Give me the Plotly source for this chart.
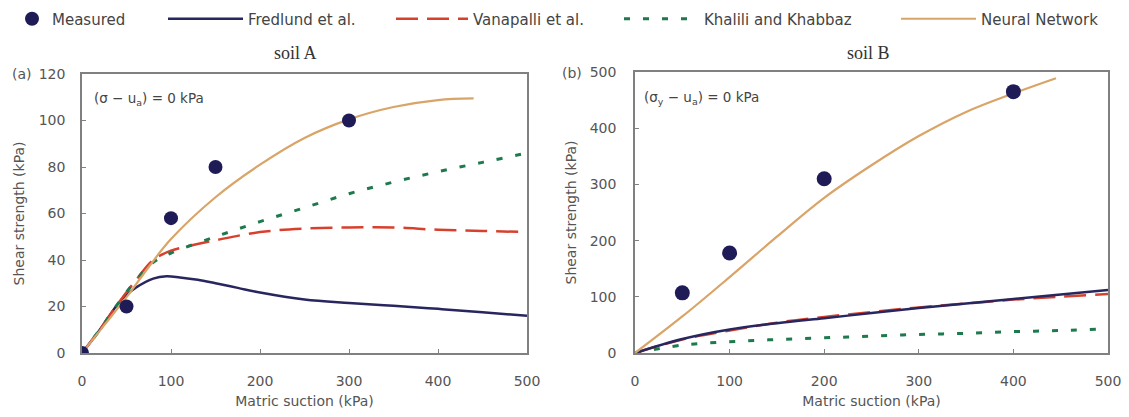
import plotly.graph_objects as go

# ---- data: soil A ----
measA_x = [0, 50, 100, 150, 300]
measA_y = [0, 20, 58, 80, 100]

fredA_x = [0, 20, 40, 50, 60, 80, 95, 110, 130, 150, 175, 200, 250, 300, 350, 400, 450, 500]
fredA_y = [0, 10, 21, 25, 28, 32, 33, 32.5, 31.5, 30, 28, 26, 23, 21.5, 20.3, 19, 17.5, 16]

vanA_x = [0, 20, 40, 60, 80, 100, 120, 150, 200, 250, 300, 350, 400, 450, 500]
vanA_y = [0, 10, 21, 31, 40, 44, 46, 48.5, 52, 53.5, 54, 54, 53, 52.5, 52]

khaA_x = [0, 20, 40, 60, 80, 100, 150, 200, 250, 300, 350, 400, 450, 500]
khaA_y = [0, 10, 21, 31, 39, 43, 50, 56.5, 62.5, 68.5, 73.5, 78, 82, 86]

nnA_x = [0, 25, 50, 75, 100, 150, 200, 250, 300, 350, 400, 440]
nnA_y = [0, 12, 24, 37, 49, 67, 81, 92.5, 100.5, 105.8, 108.8, 109.5]

# ---- data: soil B ----
measB_x = [50, 100, 200, 400]
measB_y = [107, 178, 310, 465]

fredB_x = [0, 50, 100, 150, 200, 250, 300, 350, 400, 450, 500]
fredB_y = [0, 25, 42, 53, 62, 71, 80, 88, 96, 104, 112]

vanB_x = [0, 50, 100, 150, 200, 250, 300, 350, 400, 450, 500]
vanB_y = [0, 24, 40, 54, 64, 73, 81, 88, 95, 100, 105]

khaB_x = [0, 50, 100, 150, 200, 250, 300, 350, 400, 450, 500]
khaB_y = [0, 14, 20, 24, 27, 30, 33, 35, 38, 40, 43]

nnB_x = [0, 50, 100, 150, 200, 250, 300, 350, 400, 445]
nnB_y = [0, 65, 135, 207, 276, 334, 386, 429, 462, 489]

x_ticks = [0, 100, 200, 300, 400, 500]
yA_ticks = [0, 20, 40, 60, 80, 100, 120]
yB_ticks = [0, 100, 200, 300, 400, 500]

C_MEAS = "#1e1b57"
C_FRED = "#28265f"
C_VAN = "#d8402e"
C_KHA = "#1d7a4c"
C_NN = "#d9a468"

DASH_VAN = "22px,9px"
DASH_KHA = "6px,13px"

fig = go.Figure()

def add_line(xa, ya, xs, ys, name, color, dash, width, legend, show):
    fig.add_trace(go.Scatter(x=xs, y=ys, mode="lines", name=name, line_shape="spline",
                             line=dict(color=color, width=width, dash=dash),
                             xaxis=xa, yaxis=ya, legend=legend, showlegend=show))

def add_pts(xa, ya, xs, ys, size, show):
    fig.add_trace(go.Scatter(x=xs, y=ys, mode="markers", name="Measured",
                             marker=dict(color=C_MEAS, size=size),
                             xaxis=xa, yaxis=ya, legend="legend", showlegend=show))

# soil A
add_line("x", "y", fredA_x, fredA_y, "Fredlund et al.", C_FRED, "solid", 2.5, "legend2", True)
add_line("x", "y", vanA_x, vanA_y, "Vanapalli et al.", C_VAN, DASH_VAN, 2.5, "legend3", True)
add_line("x", "y", khaA_x, khaA_y, "Khalili and Khabbaz", C_KHA, DASH_KHA, 3, "legend4", True)
add_line("x", "y", nnA_x, nnA_y, "Neural Network", C_NN, "solid", 2.2, "legend5", True)
add_pts("x", "y", measA_x, measA_y, 14, True)
# soil B
add_line("x2", "y2", khaB_x, khaB_y, "Khalili and Khabbaz", C_KHA, DASH_KHA, 3, "legend4", False)
add_line("x2", "y2", vanB_x, vanB_y, "Vanapalli et al.", C_VAN, DASH_VAN, 2.5, "legend3", False)
add_line("x2", "y2", fredB_x, fredB_y, "Fredlund et al.", C_FRED, "solid", 2.5, "legend2", False)
add_line("x2", "y2", nnB_x, nnB_y, "Neural Network", C_NN, "solid", 2.2, "legend5", False)
add_pts("x2", "y2", measB_x, measB_y, 15, False)

# page has an 8px body margin: reference pixel p -> figure pixel p - 8
OFF = 8
W, H = 1129 - 2 * OFF, 417 - 2 * OFF
ML, MR, MT, MB = 82 - OFF, W - (1108 - OFF), 72 - OFF, H - (353 - OFF)
PW = W - ML - MR
PH = H - MT - MB

def px_x(p):
    return (p - OFF - ML) / PW

def px_y(p):
    return (H - MB - (p - OFF)) / PH

SANS = "DejaVu Sans, Verdana, sans-serif"
tickfont = dict(family=SANS, size=14, color="#555")
titlefont = dict(family=SANS, size=14, color="#555")
axcommon = dict(showgrid=False, zeroline=False, showline=True, mirror=True,
                linecolor="#808080", linewidth=1.5, ticks="inside", ticklen=4,
                tickcolor="#808080", tickfont=tickfont, ticklabeloverflow="allow")

fig.update_layout(
    width=W, height=H,
    margin=dict(l=ML, r=MR, t=MT, b=MB, autoexpand=False),
    paper_bgcolor="white", plot_bgcolor="white",
    xaxis=dict(domain=[0, px_x(527)], range=[0, 500], tickvals=x_ticks, ticklabelstandoff=14,
               automargin=True,
               title=dict(text="Matric suction (kPa)", font=titlefont, standoff=14), **axcommon),
    yaxis=dict(domain=[0, px_y(74)], range=[0, 120], tickvals=yA_ticks, ticklabelstandoff=12,
               title=dict(text="Shear strength (kPa)", font=titlefont, standoff=11), **axcommon),
    xaxis2=dict(domain=[px_x(635), 1], range=[0, 500], tickvals=x_ticks, anchor="y2",
                ticklabelstandoff=14, automargin=True,
                title=dict(text="Matric suction (kPa)", font=titlefont, standoff=14), **axcommon),
    yaxis2=dict(domain=[0, px_y(72)], range=[0, 500], tickvals=yB_ticks, anchor="x2",
                ticklabelstandoff=14,
                title=dict(text="Shear strength (kPa)", font=titlefont, standoff=10), **axcommon),
)

legfont = dict(family=SANS, size=15, color="#444")
# (legend key, reference-pixel x of legend origin, symbol width)
leg_spec = [("legend", 12, 30), ("legend2", 163, 75), ("legend3", 391, 72),
            ("legend4", 619, 75), ("legend5", 896, 75)]
for key, xp, iw in leg_spec:
    fig.update_layout({key: dict(x=px_x(xp), xanchor="left", y=px_y(19), yanchor="middle",
                                 orientation="h", font=legfont, itemwidth=iw,
                                 bgcolor="rgba(0,0,0,0)")})

ann_font = dict(family=SANS, size=13.5, color="#444")
lab_font = dict(family=SANS, size=14, color="#555")
serif = dict(family="Liberation Serif, Times New Roman, serif", size=18, color="#333")
fig.add_annotation(text="soil A", xref="paper", yref="paper", x=px_x(295), y=px_y(53),
                   showarrow=False, font=serif, xanchor="center", yanchor="middle")
fig.add_annotation(text="soil B", xref="paper", yref="paper", x=px_x(868), y=px_y(53),
                   showarrow=False, font=serif, xanchor="center", yanchor="middle")
fig.add_annotation(text="(σ − u<sub>a</sub>) = 0 kPa", xref="paper", yref="paper",
                   x=px_x(92), y=px_y(99), showarrow=False, font=ann_font,
                   xanchor="left", yanchor="middle")
fig.add_annotation(text="(σ<sub>y</sub> − u<sub>a</sub>) = 0 kPa", xref="paper", yref="paper",
                   x=px_x(642), y=px_y(98), showarrow=False, font=ann_font,
                   xanchor="left", yanchor="middle")
fig.add_annotation(text="(a)", xref="paper", yref="paper", x=px_x(10), y=px_y(74),
                   showarrow=False, font=lab_font, xanchor="left", yanchor="middle")
fig.add_annotation(text="(b)", xref="paper", yref="paper", x=px_x(560), y=px_y(73),
                   showarrow=False, font=lab_font, xanchor="left", yanchor="middle")

fig.write_html("out.html")
